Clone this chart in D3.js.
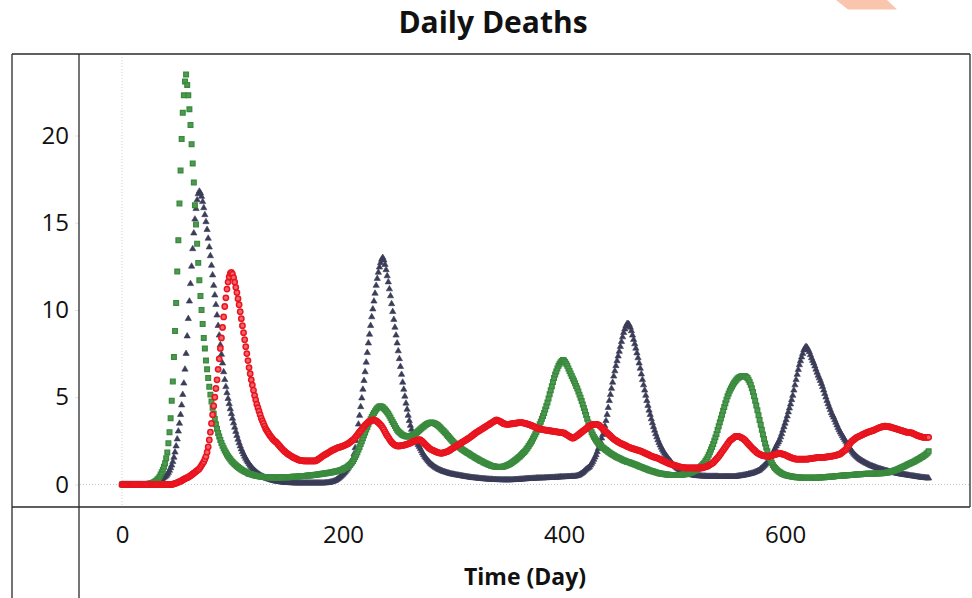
<!DOCTYPE html>
<html>
<head>
<meta charset="utf-8">
<script src="https://cdn.jsdelivr.net/npm/d3@7"></script>
<style>
  body { margin: 0; background: #fff; }
  svg { display: block; font-family: "Open Sans", "Noto Sans", sans-serif; }
</style>
</head>
<body>
<svg id="chart" width="972" height="598"></svg>
<script>
// daily deaths, one value per day (index = day 0..730)
const greenDeaths = [
  0,0,0,0,0,0,0,0,0,0,
  0,0,0,0,0,0,0,0,0,0,
  0,0,0.01,0.02,0.03,0.05,0.06,0.08,0.1,0.13,
  0.17,0.22,0.28,0.35,0.45,0.57,0.7,0.85,1.02,1.22,
  1.5,1.84,2.36,3.0,3.8,4.8,5.9,7.3,8.8,10.4,
  12.2,14.0,16.1,18.0,19.8,21.3,22.3,23.1,23.5,22.9,
  22.3,21.5,20.6,19.5,18.4,17.3,16.0,14.9,13.8,12.7,
  11.7,10.8,10.0,9.2,8.4,7.8,7.1,6.6,6.1,5.6,
  5.15,4.75,4.4,4.05,3.75,3.45,3.2,2.95,2.75,2.55,
  2.38,2.22,2.08,1.95,1.83,1.72,1.62,1.53,1.44,1.36,
  1.29,1.22,1.16,1.1,1.05,1.0,0.95,0.9,0.86,0.82,
  0.78,0.74,0.71,0.68,0.65,0.62,0.6,0.58,0.56,0.54,
  0.52,0.51,0.49,0.48,0.47,0.46,0.45,0.44,0.43,0.43,
  0.42,0.42,0.41,0.41,0.41,0.4,0.4,0.4,0.4,0.4,
  0.4,0.4,0.4,0.4,0.41,0.41,0.41,0.41,0.42,0.42,
  0.42,0.42,0.43,0.43,0.44,0.44,0.44,0.45,0.45,0.46,
  0.46,0.47,0.47,0.48,0.48,0.49,0.49,0.5,0.51,0.51,
  0.52,0.53,0.53,0.54,0.55,0.56,0.56,0.57,0.58,0.59,
  0.6,0.61,0.62,0.63,0.64,0.65,0.66,0.67,0.68,0.69,
  0.7,0.71,0.73,0.74,0.76,0.77,0.79,0.8,0.83,0.85,
  0.88,0.91,0.94,0.98,1.02,1.07,1.12,1.19,1.26,1.35,
  1.46,1.58,1.7,1.85,2.0,2.15,2.32,2.48,2.65,2.82,
  2.98,3.15,3.3,3.45,3.6,3.74,3.87,4.0,4.1,4.2,
  4.3,4.37,4.43,4.47,4.48,4.46,4.42,4.36,4.3,4.22,
  4.14,4.05,3.94,3.82,3.7,3.58,3.46,3.35,3.24,3.14,
  3.05,2.99,2.93,2.88,2.84,2.81,2.78,2.76,2.75,2.75,
  2.76,2.78,2.8,2.83,2.86,2.9,2.95,3.0,3.05,3.11,
  3.17,3.22,3.28,3.33,3.38,3.42,3.46,3.5,3.52,3.54,
  3.55,3.54,3.52,3.5,3.46,3.42,3.38,3.32,3.26,3.2,
  3.13,3.06,3.0,2.93,2.85,2.78,2.71,2.63,2.56,2.49,
  2.42,2.36,2.3,2.25,2.2,2.15,2.1,2.05,2.01,1.96,
  1.92,1.88,1.84,1.8,1.76,1.72,1.68,1.64,1.6,1.56,
  1.52,1.49,1.45,1.42,1.38,1.35,1.32,1.28,1.25,1.22,
  1.19,1.16,1.13,1.11,1.08,1.06,1.04,1.03,1.02,1.01,
  1.0,1.0,1.0,1.0,1.01,1.02,1.04,1.06,1.09,1.12,
  1.15,1.18,1.22,1.26,1.3,1.35,1.4,1.45,1.5,1.56,
  1.61,1.67,1.73,1.8,1.86,1.94,2.02,2.1,2.2,2.3,
  2.4,2.51,2.63,2.75,2.88,3.01,3.15,3.3,3.45,3.6,
  3.77,3.93,4.1,4.3,4.5,4.7,4.93,5.17,5.4,5.63,
  5.87,6.1,6.3,6.48,6.65,6.8,6.92,7.0,7.08,7.13,
  7.1,7.02,6.92,6.8,6.65,6.5,6.36,6.22,6.08,5.94,
  5.8,5.65,5.5,5.33,5.15,4.97,4.78,4.58,4.38,4.18,
  3.98,3.76,3.55,3.35,3.17,3.0,2.86,2.74,2.63,2.53,
  2.45,2.37,2.3,2.24,2.18,2.12,2.07,2.02,1.97,1.93,
  1.88,1.84,1.79,1.75,1.71,1.67,1.63,1.59,1.56,1.53,
  1.5,1.47,1.44,1.41,1.38,1.36,1.33,1.31,1.29,1.27,
  1.25,1.22,1.2,1.17,1.15,1.13,1.1,1.07,1.05,1.02,
  1.0,0.97,0.95,0.92,0.9,0.87,0.85,0.82,0.8,0.78,
  0.76,0.74,0.72,0.7,0.68,0.66,0.65,0.63,0.62,0.61,
  0.6,0.59,0.58,0.57,0.56,0.56,0.55,0.55,0.55,0.54,
  0.54,0.54,0.54,0.54,0.55,0.55,0.55,0.56,0.57,0.58,
  0.59,0.6,0.62,0.64,0.66,0.68,0.71,0.74,0.77,0.8,
  0.84,0.88,0.93,0.98,1.04,1.1,1.17,1.25,1.34,1.45,
  1.56,1.7,1.85,2.0,2.15,2.32,2.5,2.7,2.9,3.12,
  3.34,3.56,3.78,4.0,4.22,4.44,4.66,4.86,5.05,5.22,
  5.37,5.5,5.62,5.73,5.83,5.92,6.0,6.07,6.12,6.16,
  6.19,6.21,6.22,6.22,6.2,6.16,6.1,6.0,5.88,5.72,
  5.52,5.3,5.06,4.8,4.53,4.25,3.97,3.7,3.42,3.14,
  2.87,2.6,2.35,2.12,1.9,1.7,1.52,1.37,1.24,1.12,
  1.02,0.94,0.87,0.81,0.76,0.71,0.67,0.63,0.6,0.57,
  0.55,0.53,0.51,0.49,0.48,0.47,0.46,0.45,0.44,0.43,
  0.42,0.41,0.41,0.4,0.4,0.39,0.39,0.38,0.38,0.38,
  0.38,0.38,0.38,0.38,0.38,0.38,0.38,0.39,0.39,0.39,
  0.4,0.4,0.4,0.41,0.41,0.42,0.42,0.43,0.43,0.44,
  0.44,0.45,0.45,0.46,0.46,0.47,0.48,0.48,0.49,0.49,
  0.5,0.5,0.51,0.51,0.52,0.52,0.53,0.53,0.54,0.54,
  0.55,0.55,0.56,0.56,0.57,0.57,0.58,0.58,0.59,0.59,
  0.6,0.6,0.6,0.61,0.61,0.61,0.61,0.62,0.62,0.62,
  0.62,0.63,0.63,0.63,0.64,0.64,0.64,0.65,0.65,0.66,
  0.66,0.67,0.68,0.69,0.7,0.72,0.74,0.76,0.78,0.8,
  0.83,0.85,0.88,0.9,0.93,0.96,0.99,1.02,1.05,1.08,
  1.11,1.14,1.17,1.2,1.23,1.26,1.29,1.32,1.36,1.39,
  1.43,1.46,1.5,1.54,1.58,1.62,1.66,1.71,1.76,1.82,
  1.9
];

const navyDeaths = [
  0,0,0,0,0,0,0,0,0,0,
  0,0,0,0,0,0,0,0,0,0,
  0,0,0,0,0,0.01,0.02,0.03,0.05,0.06,
  0.08,0.1,0.12,0.15,0.2,0.25,0.3,0.35,0.4,0.45,
  0.5,0.58,0.68,0.8,0.95,1.1,1.3,1.55,1.85,2.2,
  2.6,3.05,3.5,4.0,4.55,5.15,5.8,6.6,7.5,8.5,
  9.5,10.5,11.5,12.5,13.5,14.4,15.2,15.8,16.3,16.65,
  16.8,16.7,16.5,16.2,15.85,15.45,15.05,14.6,14.1,13.6,
  13.1,12.55,12.0,11.4,10.85,10.3,9.7,9.1,8.55,8.0,
  7.45,6.95,6.45,6.0,5.6,5.25,4.92,4.62,4.33,4.05,
  3.78,3.52,3.27,3.03,2.8,2.58,2.38,2.2,2.03,1.88,
  1.74,1.61,1.49,1.38,1.28,1.18,1.09,1.01,0.93,0.86,
  0.8,0.74,0.68,0.63,0.58,0.54,0.5,0.46,0.43,0.4,
  0.37,0.34,0.32,0.3,0.28,0.26,0.24,0.22,0.21,0.19,
  0.18,0.17,0.16,0.15,0.14,0.13,0.12,0.12,0.11,0.11,
  0.1,0.1,0.1,0.09,0.09,0.09,0.08,0.08,0.08,0.08,
  0.08,0.08,0.08,0.08,0.08,0.08,0.08,0.08,0.08,0.08,
  0.08,0.08,0.08,0.08,0.08,0.08,0.08,0.08,0.08,0.08,
  0.08,0.08,0.08,0.08,0.09,0.09,0.1,0.11,0.12,0.13,
  0.15,0.17,0.19,0.22,0.26,0.3,0.35,0.4,0.46,0.52,
  0.58,0.65,0.72,0.8,0.88,0.98,1.08,1.2,1.32,1.45,
  1.75,2.1,2.5,2.95,3.45,3.95,4.45,4.95,5.45,5.95,
  6.45,7.0,7.55,8.1,8.6,9.1,9.6,10.05,10.5,10.95,
  11.4,11.8,12.15,12.45,12.7,12.9,13.0,12.85,12.6,12.3,
  11.95,11.6,11.2,10.8,10.35,9.9,9.45,9.0,8.55,8.1,
  7.65,7.2,6.75,6.3,5.85,5.45,5.05,4.65,4.3,3.95,
  3.65,3.38,3.15,2.95,2.78,2.62,2.5,2.38,2.27,2.17,
  2.05,1.92,1.8,1.7,1.6,1.51,1.43,1.35,1.28,1.21,
  1.15,1.1,1.05,1.0,0.96,0.92,0.88,0.85,0.82,0.79,
  0.76,0.74,0.72,0.7,0.68,0.66,0.64,0.62,0.6,0.59,
  0.58,0.57,0.55,0.54,0.53,0.52,0.51,0.5,0.48,0.47,
  0.46,0.45,0.44,0.43,0.42,0.41,0.4,0.39,0.38,0.38,
  0.37,0.36,0.36,0.35,0.34,0.34,0.33,0.32,0.32,0.31,
  0.31,0.3,0.3,0.29,0.29,0.29,0.28,0.28,0.28,0.27,
  0.27,0.27,0.27,0.27,0.26,0.26,0.26,0.26,0.26,0.26,
  0.26,0.26,0.26,0.27,0.27,0.27,0.28,0.28,0.28,0.29,
  0.29,0.3,0.3,0.31,0.31,0.32,0.32,0.33,0.33,0.34,
  0.34,0.34,0.35,0.35,0.35,0.36,0.36,0.36,0.37,0.37,
  0.37,0.37,0.38,0.38,0.38,0.38,0.39,0.39,0.39,0.4,
  0.4,0.4,0.41,0.41,0.41,0.42,0.42,0.43,0.43,0.43,
  0.44,0.44,0.44,0.45,0.45,0.45,0.45,0.46,0.46,0.46,
  0.47,0.48,0.5,0.52,0.55,0.59,0.63,0.68,0.74,0.8,
  0.86,0.91,0.96,1.0,1.1,1.2,1.3,1.43,1.56,1.7,
  1.87,2.05,2.25,2.45,2.65,2.85,3.1,3.35,3.65,4.0,
  4.4,4.8,5.15,5.5,5.85,6.2,6.5,6.8,7.08,7.35,
  7.62,7.9,8.18,8.45,8.7,8.9,9.07,9.2,9.22,9.15,
  9.0,8.8,8.55,8.3,8.05,7.8,7.53,7.25,6.95,6.65,
  6.32,6.0,5.7,5.4,5.1,4.8,4.52,4.25,4.0,3.75,
  3.52,3.3,3.1,2.9,2.72,2.55,2.4,2.25,2.12,2.0,
  1.89,1.78,1.69,1.6,1.51,1.43,1.35,1.28,1.2,1.13,
  1.07,1.01,0.95,0.9,0.86,0.82,0.78,0.75,0.71,0.68,
  0.66,0.63,0.61,0.59,0.57,0.56,0.54,0.53,0.52,0.51,
  0.5,0.5,0.49,0.49,0.48,0.48,0.47,0.47,0.47,0.46,
  0.46,0.46,0.46,0.46,0.46,0.46,0.46,0.46,0.46,0.46,
  0.45,0.45,0.45,0.45,0.45,0.45,0.45,0.45,0.45,0.45,
  0.45,0.45,0.45,0.45,0.45,0.45,0.46,0.47,0.48,0.49,
  0.5,0.51,0.52,0.53,0.54,0.56,0.57,0.59,0.6,0.62,
  0.64,0.65,0.68,0.71,0.73,0.76,0.79,0.83,0.89,0.94,
  1.0,1.06,1.13,1.2,1.28,1.36,1.45,1.56,1.68,1.8,
  1.93,2.07,2.2,2.32,2.43,2.55,2.72,2.9,3.1,3.3,
  3.5,3.7,3.92,4.15,4.37,4.6,4.85,5.1,5.4,5.7,
  6.0,6.3,6.58,6.85,7.08,7.3,7.5,7.7,7.82,7.9,
  7.85,7.73,7.6,7.43,7.25,7.1,6.95,6.78,6.6,6.42,
  6.25,6.1,5.95,5.78,5.6,5.4,5.2,5.0,4.8,4.62,
  4.45,4.28,4.1,3.97,3.85,3.7,3.55,3.4,3.25,3.12,
  3.0,2.89,2.78,2.67,2.57,2.46,2.35,2.25,2.15,2.05,
  1.95,1.86,1.78,1.71,1.64,1.58,1.52,1.47,1.42,1.38,
  1.34,1.3,1.27,1.23,1.2,1.17,1.13,1.1,1.07,1.05,
  1.02,1.0,0.98,0.95,0.93,0.91,0.89,0.87,0.85,0.83,
  0.81,0.79,0.78,0.76,0.74,0.73,0.71,0.7,0.68,0.67,
  0.66,0.64,0.63,0.62,0.6,0.59,0.58,0.57,0.56,0.55,
  0.54,0.53,0.52,0.51,0.5,0.49,0.48,0.47,0.46,0.45,
  0.44,0.43,0.42,0.41,0.4,0.4,0.39,0.38,0.37,0.37,
  0.36
];

const redDeaths = [
  0,0,0,0,0,0,0,0,0,0,
  0,0,0,0,0,0,0,0,0,0,
  0,0,0,0,0,0,0,0,0,0,
  0,0,0,0,0,0,0,0,0,0,
  0,0,0,0,0,0,0.02,0.04,0.06,0.08,
  0.1,0.13,0.16,0.19,0.22,0.26,0.3,0.33,0.36,0.39,
  0.42,0.46,0.5,0.55,0.6,0.65,0.7,0.75,0.8,0.85,
  0.9,1.0,1.1,1.2,1.3,1.45,1.6,1.85,2.15,2.55,
  3.0,3.5,4.0,4.5,5.0,5.5,6.0,6.6,7.2,7.8,
  8.4,9.0,9.6,10.2,10.7,11.2,11.6,11.9,12.1,12.15,
  12.05,11.85,11.6,11.3,11.0,10.65,10.3,9.9,9.5,9.1,
  8.7,8.3,7.9,7.5,7.1,6.7,6.35,6.0,5.7,5.4,
  5.1,4.85,4.6,4.4,4.2,4.0,3.8,3.65,3.5,3.35,
  3.2,3.1,3.0,2.9,2.8,2.72,2.64,2.56,2.5,2.45,
  2.4,2.32,2.25,2.18,2.1,2.03,1.97,1.91,1.86,1.8,
  1.75,1.71,1.67,1.63,1.59,1.55,1.52,1.49,1.46,1.43,
  1.4,1.39,1.38,1.37,1.36,1.35,1.35,1.35,1.35,1.35,
  1.35,1.35,1.35,1.35,1.35,1.35,1.38,1.42,1.46,1.5,
  1.55,1.6,1.64,1.68,1.72,1.75,1.79,1.83,1.87,1.91,
  1.95,1.98,2.01,2.04,2.07,2.1,2.12,2.14,2.16,2.18,
  2.2,2.23,2.26,2.29,2.32,2.35,2.4,2.45,2.5,2.55,
  2.6,2.68,2.76,2.84,2.92,3.0,3.08,3.16,3.24,3.32,
  3.4,3.46,3.52,3.58,3.62,3.65,3.68,3.7,3.7,3.68,
  3.65,3.6,3.55,3.48,3.42,3.35,3.25,3.14,3.02,2.9,
  2.8,2.7,2.6,2.5,2.42,2.36,2.3,2.26,2.23,2.21,
  2.2,2.21,2.22,2.23,2.24,2.25,2.27,2.29,2.31,2.33,
  2.35,2.38,2.41,2.44,2.47,2.5,2.52,2.54,2.56,2.57,
  2.55,2.5,2.45,2.38,2.32,2.26,2.2,2.14,2.08,2.03,
  2.0,1.97,1.94,1.91,1.88,1.85,1.83,1.81,1.8,1.79,
  1.8,1.82,1.84,1.86,1.88,1.9,1.94,1.98,2.02,2.06,
  2.1,2.14,2.18,2.22,2.26,2.3,2.34,2.38,2.42,2.46,
  2.5,2.54,2.58,2.62,2.66,2.7,2.75,2.8,2.85,2.9,
  2.95,2.99,3.03,3.07,3.11,3.15,3.19,3.23,3.27,3.31,
  3.35,3.39,3.43,3.47,3.51,3.55,3.59,3.63,3.67,3.7,
  3.68,3.65,3.62,3.58,3.54,3.5,3.48,3.46,3.45,3.45,
  3.45,3.46,3.47,3.48,3.49,3.5,3.51,3.52,3.53,3.54,
  3.55,3.55,3.54,3.53,3.52,3.5,3.48,3.46,3.44,3.42,
  3.4,3.37,3.34,3.31,3.28,3.25,3.23,3.21,3.19,3.17,
  3.15,3.14,3.13,3.12,3.11,3.1,3.09,3.08,3.07,3.06,
  3.05,3.04,3.03,3.02,3.01,3.0,2.99,2.98,2.97,2.96,
  2.95,2.91,2.87,2.83,2.79,2.75,2.71,2.68,2.65,2.68,
  2.72,2.76,2.8,2.85,2.9,2.95,3.0,3.05,3.1,3.15,
  3.2,3.25,3.3,3.34,3.38,3.41,3.44,3.45,3.45,3.45,
  3.45,3.42,3.38,3.32,3.26,3.2,3.14,3.08,3.02,2.96,
  2.9,2.84,2.78,2.72,2.66,2.6,2.56,2.52,2.48,2.44,
  2.4,2.37,2.34,2.31,2.28,2.25,2.22,2.19,2.16,2.13,
  2.1,2.08,2.06,2.04,2.02,2.0,1.98,1.96,1.94,1.92,
  1.9,1.87,1.84,1.81,1.78,1.75,1.72,1.69,1.66,1.63,
  1.6,1.58,1.56,1.54,1.52,1.5,1.47,1.44,1.41,1.38,
  1.35,1.32,1.29,1.26,1.23,1.2,1.18,1.16,1.14,1.12,
  1.1,1.08,1.06,1.04,1.02,1.0,0.99,0.98,0.97,0.96,
  0.95,0.95,0.95,0.95,0.95,0.95,0.95,0.95,0.95,0.95,
  0.95,0.95,0.95,0.95,0.95,0.95,0.97,0.99,1.01,1.03,
  1.05,1.09,1.13,1.17,1.21,1.25,1.32,1.39,1.46,1.53,
  1.6,1.69,1.78,1.87,1.96,2.05,2.14,2.23,2.32,2.41,
  2.5,2.55,2.6,2.65,2.7,2.75,2.75,2.76,2.75,2.73,
  2.7,2.67,2.63,2.58,2.52,2.45,2.38,2.31,2.24,2.17,
  2.1,2.04,1.98,1.92,1.86,1.8,1.77,1.74,1.71,1.68,
  1.65,1.64,1.63,1.62,1.61,1.6,1.62,1.64,1.66,1.68,
  1.7,1.72,1.74,1.76,1.78,1.8,1.78,1.76,1.74,1.72,
  1.7,1.67,1.64,1.61,1.58,1.55,1.53,1.51,1.49,1.47,
  1.45,1.45,1.45,1.45,1.45,1.45,1.45,1.45,1.45,1.45,
  1.45,1.46,1.47,1.48,1.49,1.5,1.51,1.52,1.53,1.54,
  1.55,1.55,1.55,1.55,1.55,1.55,1.56,1.57,1.58,1.59,
  1.6,1.61,1.62,1.63,1.64,1.65,1.67,1.69,1.71,1.73,
  1.75,1.8,1.85,1.9,1.95,2.0,2.09,2.18,2.27,2.36,
  2.45,2.5,2.55,2.6,2.65,2.7,2.73,2.76,2.79,2.82,
  2.85,2.88,2.91,2.94,2.97,3.0,3.02,3.04,3.06,3.08,
  3.1,3.13,3.16,3.19,3.22,3.25,3.27,3.29,3.31,3.33,
  3.35,3.34,3.33,3.32,3.31,3.3,3.28,3.26,3.24,3.22,
  3.2,3.18,3.16,3.14,3.12,3.1,3.08,3.06,3.04,3.02,
  3.0,2.99,2.98,2.97,2.96,2.95,2.92,2.89,2.86,2.83,
  2.8,2.78,2.76,2.74,2.72,2.7,2.7,2.7,2.7,2.7,
  2.7
];

const yTickValues = [0, 5, 10, 15, 20];
const xTickValues = [0, 200, 400, 600];

const width = 972;
const height = 598;

// frame geometry (Tableau-style panes)
const frame = { left: 12, right: 970, top: 54, bottom: 507, paneLeft: 79 };

const svg = d3.select('#chart');

// scales: x 0 day sits at 122px, y 0 at 484.5px
const x = d3.scaleLinear()
    .domain([-38, 767.4])
    .range([frame.paneLeft + 1, frame.right]);

const y = d3.scaleLinear()
    .domain([-1.29, 24.67])
    .range([frame.bottom, frame.top]);

// faint artifact at the top right edge of the screenshot
svg.append('polygon')
    .attr('points', '836,0 887,0 897,9.5 848,9.5')
    .attr('fill', '#f9c5ad');

// title
svg.append('text')
    .attr('x', 493)
    .attr('y', 33)
    .attr('text-anchor', 'middle')
    .attr('font-size', '30px')
    .attr('font-weight', 700)
    .attr('fill', '#111')
    .text('Daily Deaths');

// zero reference lines (dotted)
svg.append('line')
    .attr('x1', frame.paneLeft + 1).attr('x2', frame.right)
    .attr('y1', y(0)).attr('y2', y(0))
    .attr('stroke', '#c8c8c8')
    .attr('stroke-dasharray', '1,2');

svg.append('line')
    .attr('x1', x(0)).attr('x2', x(0))
    .attr('y1', frame.top).attr('y2', frame.bottom)
    .attr('stroke', '#d0d0d0')
    .attr('stroke-dasharray', '1,2');

// axes
const yAxis = svg.append('g')
    .attr('transform', `translate(${frame.paneLeft},0)`)
    .call(d3.axisLeft(y).tickValues(yTickValues).tickSize(4).tickPadding(6));

const xAxis = svg.append('g')
    .attr('transform', `translate(0,${frame.bottom})`)
    .call(d3.axisBottom(x).tickValues(xTickValues).tickSize(0).tickPadding(19));

[yAxis, xAxis].forEach(g => {
    g.select('.domain').remove();
    g.selectAll('.tick line').attr('stroke', '#e2e2e2');
    g.selectAll('.tick text')
        .attr('font-size', '24px')
        .attr('font-family', '"Open Sans", "Noto Sans", sans-serif')
        .attr('fill', '#111');
});

// x axis title
svg.append('text')
    .attr('x', 525)
    .attr('y', 585)
    .attr('text-anchor', 'middle')
    .attr('font-size', '23px')
    .attr('font-weight', 700)
    .attr('fill', '#111')
    .text('Time (Day)');

// frame lines
const frameLines = [
    [frame.left, frame.top, frame.right, frame.top],
    [frame.left, frame.top, frame.left, height],
    [frame.paneLeft, frame.top, frame.paneLeft, height],
    [frame.right, frame.top, frame.right, frame.bottom],
    [frame.left, frame.bottom, frame.right, frame.bottom]
];
svg.append('g').selectAll('line')
    .data(frameLines)
    .join('line')
    .attr('x1', d => d[0]).attr('y1', d => d[1])
    .attr('x2', d => d[2]).attr('y2', d => d[3])
    .attr('stroke', '#2a2a2a')
    .attr('stroke-width', 1.3);

// series marks, drawn bottom to top
const series = [
    { values: navyDeaths, symbol: d3.symbolTriangle, size: 17, fill: '#3b3c58', stroke: '#3b3c58', sw: 0.6 },
    { values: greenDeaths, symbol: d3.symbolSquare, size: 22, fill: '#4f9a52', stroke: '#3a8a3e', sw: 1.3 },
    { values: redDeaths, symbol: d3.symbolCircle, size: 22, fill: '#f2646b', stroke: '#e8141e', sw: 1.5 }
];

const marks = svg.append('g');
series.forEach(s => {
    const sym = d3.symbol().type(s.symbol).size(s.size)();
    marks.append('g').selectAll('path')
        .data(s.values)
        .join('path')
        .attr('d', sym)
        .attr('transform', (d, i) => `translate(${x(i)},${y(d)})`)
        .attr('fill', s.fill)
        .attr('stroke', s.stroke)
        .attr('stroke-width', s.sw);
});
</script>
</body>
</html>
